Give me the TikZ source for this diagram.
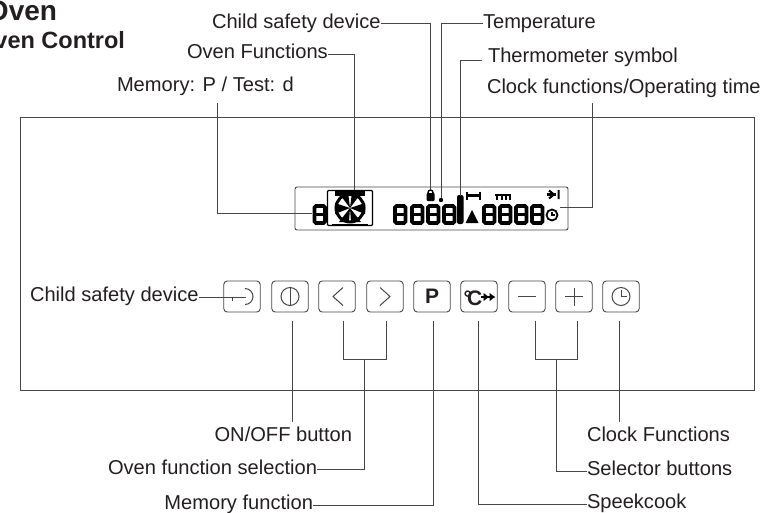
\documentclass[tikz,border=0pt]{standalone}
\usepackage{fontspec}
\setmainfont{Liberation Sans}
\usetikzlibrary{arrows.meta,calc,positioning}
\definecolor{inktext}{RGB}{35,31,32}
\definecolor{leadline}{RGB}{70,70,70}

\tikzset{
    segdigit/.pic={
        \draw[black, line width=3.6pt, rounded corners=1.5pt] (0,0) rectangle (10.5,17);
        \draw[black, line width=3pt] (0,8.5) -- (10.5,8.5);
    }
}

\begin{document}
\begin{tikzpicture}[
    x=1pt, y=-1pt,
    label/.style={font=\fontsize{20.1}{24}\selectfont, text=inktext, inner sep=0pt, outer sep=0pt},
    heading/.style={font=\bfseries, text=inktext, inner sep=0pt, outer sep=0pt},
    btn/.style={draw=leadline, line width=0.9pt, rounded corners=3.5pt, minimum width=36.5pt, minimum height=31pt, inner sep=0pt, outer sep=0pt},
    glyph/.style={draw=leadline, line width=1pt},
    lead/.style={draw=leadline, line width=0.9pt}
]
\useasboundingbox (0,0) rectangle (765,512);

% Title
\node[heading, font=\bfseries\fontsize{28}{32}\selectfont, anchor=base east] (title) at (57,20) {Oven};
\node[heading, font=\bfseries\fontsize{23.5}{28}\selectfont, anchor=base east] (subtitle) at (125,48) {Oven Control};

% Panel and display
\node[draw=leadline, line width=0.9pt, minimum width=734pt, minimum height=273pt, inner sep=0pt, outer sep=0pt] (panel) at (387,253.5) {};
\node[draw=leadline, line width=0.9pt, rounded corners=2pt, minimum width=273pt, minimum height=43pt, inner sep=0pt, outer sep=0pt] (display) at (431.5,208.5) {};

% Display contents
\pic at (314.5,206) {segdigit};
\node[draw=black, line width=1.2pt, rounded corners=1pt, minimum width=45pt, minimum height=35pt, inner sep=0pt] (fanbox) at (350,208) {};
\draw[black, line width=3pt] (350,208) circle (14);
\fill[black] (350,208) -- (338,192) -- (348,192) -- cycle;
\fill[black] (350,208) -- (352,192) -- (362,192) -- cycle;
\fill[black] (350,208) -- (335,203) -- (335,214) -- cycle;
\fill[black] (350,208) -- (365,203) -- (365,214) -- cycle;
\fill[black] (350,208) -- (339,222) -- (349,222) -- cycle;
\fill[black] (350,208) -- (351,222) -- (361,222) -- cycle;
\fill[black] (335,190.5) rectangle (365,196);
\draw[black, line width=2pt] (332,224.5) -- (368,224.5);
\foreach \dx in {395,412,428,444}
    \pic at (\dx,206) {segdigit};
\foreach \dx in {484,500,516,532}
    \pic at (\dx,206) {segdigit};
\fill[black, rounded corners=1pt] (426.5,201) rectangle (434.5,193);
\draw[black, line width=1.4pt] (430.5,192.5) circle (2.5);
\fill[black] (441,200) circle (2.2);
\fill[black, rounded corners=2pt] (457,195) rectangle (463.5,224);
\fill[black] (472,210) -- (478.5,223) -- (465.5,223) -- cycle;
\draw[black, line width=2.4pt] (467,195.5) -- (480,195.5);
\draw[black, line width=2pt] (467,191.5) -- (467,199.5) (480,191.5) -- (480,199.5);
\draw[black, line width=2.4pt] (495,195) -- (511,195);
\draw[black, line width=2pt] (497,195) -- (497,200) (501.5,195) -- (501.5,200) (506,195) -- (506,200) (510,195) -- (510,200);
\draw[black, line width=2.4pt] (547,194.5) -- (556,194.5);
\draw[black, line width=2pt] (558.5,190) -- (558.5,199) (549,190.5) -- (554,194.5) -- (549,198.5);
\draw[black, line width=1.8pt] (552,215) circle (5.5);
\draw[black, line width=1.4pt] (552,212) -- (552,215) -- (555,215);

% Buttons
\node[btn] (btnkey) at (242,296.5) {};
\node[btn] (btnpower) at (290,296.5) {};
\node[btn] (btnleft) at (337,296.5) {};
\node[btn] (btnright) at (385,296.5) {};
\node[btn, font=\bfseries\fontsize{21}{24}\selectfont, text=inktext] (btnmemory) at (432,296.5) {P};
\node[btn] (btncook) at (479,296.5) {};
\node[btn] (btnminus) at (527,296.5) {};
\node[btn] (btnplus) at (574,296.5) {};
\node[btn] (btnclock) at (621,296.5) {};

% Button glyphs
\draw[glyph] (232.5,301) -- (232.5,297) -- (246,297);
\draw[glyph] (245,288.5) arc (-90:90:8);
\draw[glyph] (290,296.5) circle (9);
\draw[glyph] (290,287.5) -- (290,305.5);
\draw[glyph] (343,287.5) -- (333,296.5) -- (343,305.5);
\draw[glyph] (380,287.5) -- (390,296.5) -- (380,305.5);
\node[inner sep=0pt, font=\bfseries\fontsize{21}{24}\selectfont, text=inktext, anchor=base west] (cooktext) at (463.5,305) {°\hspace{-5pt}C};
\draw[black, line width=2pt, -{Latex[length=6pt,width=9pt] Latex[length=6pt,width=9pt]}] (481,297) -- (495.5,297);
\draw[glyph] (518,296.5) -- (536,296.5);
\draw[glyph] (565,296.5) -- (583,296.5);
\draw[glyph] (574,287.5) -- (574,305.5);
\draw[glyph] (621,296.5) circle (9);
\draw[glyph] (621,289.5) -- (621,296.5) -- (627,296.5);

% Top labels
\node[label, anchor=base west] (childtop) at (212,28) {Child safety device};
\node[label, anchor=base west] (ovenfunc) at (187,58) {Oven Functions};
\node[label, anchor=base west] (memtest) at (117,91) {Memory: P / Test: d};
\node[label, anchor=base west] (temp) at (483,28) {Temperature};
\node[label, anchor=base west] (thermo) at (488,62) {Thermometer symbol};
\node[label, anchor=base west] (clockop) at (487,93) {Clock functions/Operating time};

% Side and bottom labels
\node[label, anchor=base west] (childside) at (30,301.5) {Child safety device};
\node[label, anchor=base east] (onoff) at (352,441) {ON/OFF button};
\node[label, anchor=base east] (ovensel) at (317,474) {Oven function selection};
\node[label, anchor=base east] (memfunc) at (313,509) {Memory function};
\node[label, anchor=base west] (clockfunc) at (587,441) {Clock Functions};
\node[label, anchor=base west] (selector) at (587,475) {Selector buttons};
\node[label, anchor=base west] (speek) at (587,508) {Speekcook};

% Free ends on the display
\coordinate (memend) at (312,213);
\coordinate (fanend) at (354,190);
\coordinate (lockend) at (430,190);
\coordinate (tempend) at (441,198);
\coordinate (thermoend) at (460,196);
\coordinate (clockend) at (560,207);
\coordinate (thermotail) at (482,60);

% Upper leader lines
\draw[lead] (217,103) |- (memend);
\draw[lead] (ovenfunc.east |- 0,54) -| (fanend);
\draw[lead] (childtop.east |- 0,23) -| (lockend);
\draw[lead] (temp.west |- 0,23) -| (tempend);
\draw[lead] (thermotail) -| (thermoend);
\draw[lead] (592,103) |- (clockend);
\draw[lead] (childside.east |- 0,297) -- (232.5,297);

% Lower leader lines
\draw[lead] ($(btnpower.south)+(2,9)$) -- ($(btnpower.south)+(2,110)$);
\draw[lead] ($(btnclock.south)+(-2,9)$) -- ($(btnclock.south)+(-2,110)$);
\draw[lead] ($(btnleft.south)+(6,9)$) |- (364,359);
\draw[lead] ($(btnright.south)+(1,9)$) |- (364,359);
\draw[lead] (364,359) |- (ovensel.east |- 0,469);
\draw[lead] ($(btnmemory.south)+(1.5,9)$) |- (memfunc.east |- 0,505);
\draw[lead] ($(btncook.south)+(-1,9)$) |- (speek.west |- 0,504);
\draw[lead] ($(btnminus.south)+(8,9)$) |- (556,359);
\draw[lead] ($(btnplus.south)+(3,9)$) |- (556,359);
\draw[lead] (556,359) |- (selector.west |- 0,471);

\end{tikzpicture}
\end{document}
